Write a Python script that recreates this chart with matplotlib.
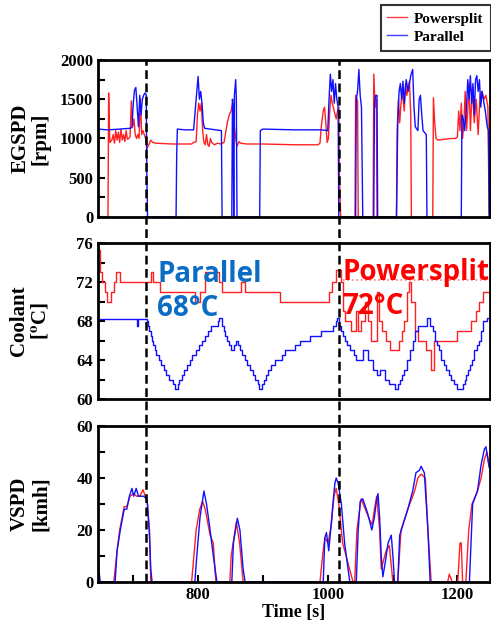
import numpy as np
import matplotlib
matplotlib.use('Agg')
from matplotlib import pyplot as plt
from matplotlib.lines import Line2D
from matplotlib.ticker import MultipleLocator
import matplotlib.transforms as mtransforms

# engine speed [rpm], (time, value)
egspd_ps = [(646, 0), (661, 0), (662, 1580), (663, 1200), (664, 950), (667, 980), (669, 1050), (671, 940),
            (673, 1100), (675, 980), (677, 1080), (679, 950), (681, 1120), (683, 980), (685, 1050), (687, 960),
            (689, 1100), (691, 990), (693, 1000), (695, 1020), (697, 1480), (699, 1150), (701, 1250), (703, 1050),
            (705, 1000), (707, 1050), (709, 1000), (711, 1500), (713, 1050), (715, 1100), (717, 1050), (719, 1000),
            (721, 870), (724, 920), (727, 980), (730, 950), (735, 940), (760, 930), (790, 930), (793, 950),
            (797, 960), (799, 1300), (801, 1450), (803, 1350), (805, 1450), (807, 1100), (809, 950), (811, 920),
            (813, 1050), (815, 920), (817, 900), (819, 1000), (821, 950), (825, 920), (830, 940), (835, 930),
            (840, 950), (845, 1200), (848, 1300), (851, 1350), (853, 1450), (855, 1300), (856, 1150), (858, 1000),
            (860, 900), (863, 960), (866, 940), (875, 930), (900, 930), (950, 920), (985, 920), (988, 940),
            (990, 1150), (993, 1350), (995, 1400), (997, 1200), (999, 950), (1001, 1000), (1003, 1350), (1005, 1550),
            (1007, 1450), (1010, 1350), (1013, 1250), (1015, 1350), (1017, 1400), (1018, 500), (1020, 0),
            (1042, 0), (1043, 1550), (1046, 1480), (1047, 0), (1070, 0), (1071, 1820), (1073, 1400), (1075, 1500),
            (1076, 0), (1106, 0), (1107, 1100), (1109, 1500), (1111, 1200), (1113, 1450), (1115, 1600),
            (1118, 1350), (1120, 1700), (1122, 1550), (1124, 1650), (1126, 1730), (1128, 1300), (1129, 0),
            (1162, 0), (1163, 1520), (1165, 1200), (1167, 1000), (1170, 980), (1180, 990), (1190, 1000),
            (1197, 1000), (1200, 1020), (1202, 1350), (1204, 1100), (1206, 1450), (1208, 1000), (1210, 1200),
            (1212, 1600), (1214, 1100), (1216, 1350), (1218, 1700), (1220, 1100), (1223, 1650), (1226, 1200),
            (1229, 1500), (1232, 1050), (1235, 1550), (1238, 1600), (1241, 1500), (1244, 1550), (1247, 1400),
            (1249, 50), (1250, 0)]

egspd_pa = [(646, 1120), (660, 1110), (680, 1120), (695, 1130), (698, 1140), (700, 1450), (702, 1620), (704, 1650),
            (706, 1400), (708, 1150), (710, 1550), (712, 1300), (714, 1500), (716, 1550), (718, 1580), (720, 1560),
            (721, 500), (722, 0), (766, 0), (767, 800), (768, 1120), (780, 1110), (793, 1110), (795, 1300),
            (798, 1600), (800, 1790), (802, 1500), (804, 1600), (806, 1450), (808, 1200), (810, 1130), (836, 1100),
            (837, 0), (852, 0), (853, 1500), (854, 1350), (855, 0), (856, 1550), (858, 1750), (859, 1500),
            (860, 0), (895, 0), (896, 1100), (900, 1120), (950, 1110), (990, 1110), (1000, 1100), (1002, 1500),
            (1004, 1820), (1006, 1600), (1008, 1750), (1010, 1450), (1012, 1700), (1014, 1500), (1016, 1400),
            (1017, 0), (1043, 0), (1044, 1500), (1046, 1600), (1048, 1880), (1050, 1550), (1052, 1400), (1054, 0),
            (1071, 0), (1072, 1450), (1074, 1550), (1076, 1550), (1077, 0), (1106, 0), (1108, 1200), (1110, 1600),
            (1112, 1700), (1114, 1500), (1116, 1730), (1118, 1450), (1121, 1750), (1124, 1600), (1126, 1700),
            (1128, 1800), (1131, 1880), (1133, 1400), (1135, 1150), (1139, 1100), (1141, 1500), (1143, 1550),
            (1145, 1300), (1147, 1100), (1152, 1050), (1153, 0), (1206, 0), (1207, 1300), (1209, 1250),
            (1211, 1100), (1214, 1400), (1216, 1750), (1218, 1500), (1220, 1800), (1222, 1450), (1224, 1700),
            (1226, 1300), (1228, 1750), (1230, 1800), (1232, 1600), (1234, 1750), (1236, 1400), (1238, 1600),
            (1240, 1500), (1243, 1350), (1246, 1150), (1248, 1100), (1249, 0), (1250, 0)]

# coolant temperature [oC], stepwise
cool_ps = [(646, 75.3), (648, 73), (652, 72), (657, 71), (660, 70), (665, 71), (671, 72), (674, 73), (679, 72),
           (728, 73), (731, 72), (742, 71), (795, 70), (803, 71), (811, 73), (832, 72), (837, 71), (866, 72),
           (873, 71), (926, 70), (1002, 71), (1007, 72), (1013, 73.2), (1021, 72), (1024, 69), (1027, 68),
           (1036, 67), (1044, 69), (1047, 67), (1052, 68), (1058, 70), (1062, 68), (1067, 66), (1076, 71),
           (1079, 68), (1084, 67), (1090, 66), (1096, 65), (1110, 66), (1114, 67), (1118, 68), (1122, 71),
           (1126, 72), (1129, 70), (1134, 67), (1139, 66), (1152, 65), (1160, 63), (1164, 66), (1200, 67),
           (1221, 68), (1229, 69), (1234, 70), (1239, 71), (1250, 71)]

cool_pa = [(646, 68.2), (705, 67.5), (708, 68.2), (721, 68), (723, 67.5), (725, 67), (727, 66.5), (729, 66),
           (731, 65.5), (733, 65), (735, 64.5), (739, 64), (743, 63.5), (747, 63), (751, 62.5), (755, 62),
           (762, 61.5), (764, 61), (769, 61.5), (771, 62), (775, 62.5), (779, 63), (783, 63.5), (787, 64),
           (791, 64.5), (796, 65), (801, 65.5), (806, 66), (811, 66.5), (816, 67), (820, 67.5), (830, 68),
           (833, 68.3), (837, 67.5), (840, 67), (842, 66.5), (844, 66), (847, 65.5), (850, 65), (856, 65.5),
           (859, 66), (862, 65.5), (864, 65), (868, 64.5), (872, 64), (876, 63.5), (880, 63), (884, 62.5),
           (888, 62), (892, 61.5), (894, 61), (898, 61.5), (901, 62), (904, 62.5), (908, 63), (913, 63.5),
           (918, 64), (930, 64.5), (934, 65), (950, 65.5), (957, 66), (972, 66.5), (990, 67), (1008, 67.5),
           (1012, 68), (1015, 68.3), (1018, 67.5), (1021, 67), (1024, 66.5), (1027, 66), (1030, 65.5),
           (1034, 65), (1041, 64.5), (1044, 64), (1054, 65), (1062, 64), (1070, 63), (1076, 62.5), (1080, 63),
           (1088, 62), (1095, 61.5), (1103, 61), (1108, 61.5), (1111, 62), (1114, 62.5), (1118, 63), (1123, 64),
           (1127, 65), (1131, 66), (1135, 67), (1139, 67.5), (1153, 68.3), (1158, 67.5), (1163, 67), (1165, 66),
           (1168, 65.5), (1171, 65), (1175, 64), (1179, 63.5), (1183, 63), (1187, 62.5), (1190, 62),
           (1194, 61.5), (1200, 61), (1208, 61.5), (1211, 62), (1213, 62.5), (1216, 63), (1219, 63.5),
           (1222, 64), (1226, 65), (1230, 65.5), (1234, 66), (1236, 67), (1240, 68), (1246, 68.3), (1250, 68.3)]

ps_line = [(1024, 72.2), (1250, 72.2)]

# vehicle speed [km/h]
vspd_pa = [(646, 7), (649, 0), (672, 0), (675, 12), (680, 20), (686, 28), (690, 28), (694, 33), (698, 36),
           (700.5, 33), (704.5, 36), (708, 33), (716, 33), (720, 32), (722, 30), (725, 18), (727, 5), (729, 0),
           (795, 0), (798, 10), (803, 25), (809, 35), (813, 30), (818.5, 20), (823.5, 10), (829, 0),
           (852, 0), (854.5, 15), (860.5, 24.5), (864.5, 20), (869.5, 5), (872.5, 0),
           (993, 0), (995.5, 17), (998, 19), (1001.5, 12), (1004.5, 20), (1008, 30), (1011, 38), (1013, 40),
           (1016, 38), (1021, 30), (1026, 15), (1034, 0), (1044, 0), (1047, 20), (1050, 31), (1054, 32),
           (1059.5, 28), (1062, 26), (1068, 20), (1072, 25), (1075, 31), (1077.5, 34), (1080, 25),
           (1082.5, 10), (1085, 2), (1089, 8), (1093, 15), (1098, 18), (1100.5, 10), (1103, 0),
           (1108, 0), (1111, 18), (1116, 22), (1123.5, 28), (1131, 35), (1136, 42), (1141.5, 43), (1144, 44.5),
           (1149, 42), (1154.5, 20), (1158, 0), (1218.5, 0), (1223.5, 30), (1231, 35), (1236.5, 45),
           (1241.5, 51), (1244, 52), (1246.5, 48), (1249, 44), (1250, 44)]

vspd_ps = [(646, 0), (670, 0), (675, 12), (679, 20), (686, 29), (690, 29), (695, 33), (700.5, 34), (705, 33),
           (710, 33), (715, 35.5), (718.5, 33), (721, 32), (725, 20), (727, 0), (790, 0), (797, 20),
           (802.5, 28), (807, 31), (811, 28), (818.5, 18), (823.5, 15), (826, 5), (827.5, 0), (849, 0),
           (851, 10), (859, 23), (864, 15), (869.5, 0), (988, 0), (992, 10), (995.5, 17), (1000.5, 15),
           (1005.5, 22), (1009.5, 33), (1013, 36), (1017, 30), (1023, 15), (1039, 0), (1041.5, 0), (1045, 20),
           (1051.5, 32), (1059.5, 27), (1064.5, 24), (1068.5, 22), (1072, 28), (1075.5, 33), (1080, 20),
           (1082.5, 5), (1090, 12), (1095, 14), (1100.5, 0), (1108, 0), (1113, 20), (1123.5, 28), (1134, 35),
           (1139, 40), (1144, 41.5), (1150.5, 40), (1154.5, 20), (1159.5, 0), (1185, 0), (1187.5, 3),
           (1192, 0), (1200.5, 0), (1204, 15), (1206, 15), (1208, 0), (1213, 0), (1217.5, 20), (1222.5, 30),
           (1231, 35), (1236.5, 40), (1241.5, 47), (1245.5, 50), (1249, 45), (1250, 45)]

t_marks = [720, 1017]
xlim = (645.6, 1250)

red = '#ff2020'
blue = '#1010ff'
plt.rcParams['font.family'] = ['Liberation Serif', 'DejaVu Serif']
plt.rcParams['font.weight'] = 'bold'
plt.rcParams['mathtext.fontset'] = 'stix'

fig = plt.figure(figsize=(4.91, 6.25), dpi=100)
ax1 = fig.add_axes([0.1996, 0.6528, 0.798, 0.2512])
ax2 = fig.add_axes([0.1996, 0.3616, 0.798, 0.2496])
ax3 = fig.add_axes([0.1996, 0.0688, 0.798, 0.2496])

def xy(pairs):
    t, v = zip(*pairs)
    return list(t), list(v)

ax1.plot(*xy(egspd_ps), color=red, lw=1)
ax1.plot(*xy(egspd_pa), color=blue, lw=1)
ax2.plot(*xy(cool_ps), color=red, lw=1, drawstyle='steps-post')
ax2.plot(*xy(cool_pa), color=blue, lw=1, drawstyle='steps-post')
ax2.plot(*xy(ps_line), color=red, lw=1.2, ls=':', alpha=0.6)
ax3.plot(*xy(vspd_ps), color=red, lw=1)
ax3.plot(*xy(vspd_pa), color=blue, lw=1)

ax1.set_ylim(0, 2000)
ax1.yaxis.set_major_locator(MultipleLocator(500))
ax1.yaxis.set_minor_locator(MultipleLocator(250))
ax2.set_ylim(60, 76)
ax2.yaxis.set_major_locator(MultipleLocator(4))
ax2.yaxis.set_minor_locator(MultipleLocator(2))
ax3.set_ylim(0, 60)
ax3.yaxis.set_major_locator(MultipleLocator(20))
ax3.yaxis.set_minor_locator(MultipleLocator(10))
ax3.xaxis.set_major_locator(MultipleLocator(200))
ax3.xaxis.set_minor_locator(MultipleLocator(100))

labels = ['EGSPD\n[rpm]', 'Coolant\n[$^{\\mathbf{o}}$C]', 'VSPD\n[kmh]']
for ax, lab in zip([ax1, ax2, ax3], labels):
    ax.set_xlim(*xlim)
    for s in ax.spines.values():
        s.set_linewidth(2)
    ax.tick_params(which='both', direction='in', length=5, width=1.5, labelsize=12, right=False, top=False)
    ax.set_ylabel(lab, fontsize=15, fontweight='bold', linespacing=1.05)
    ax.yaxis.set_label_coords(-0.12, 0.5)
for ax in [ax1, ax2]:
    ax.tick_params(axis='x', which='both', bottom=False, labelbottom=False)
ax3.set_xlabel('Time [s]', fontsize=13, fontweight='bold', labelpad=1)

# dashed markers across all three panels
trans = mtransforms.blended_transform_factory(ax3.transData, fig.transFigure)
for tm in t_marks:
    fig.add_artist(Line2D([tm, tm], [0.0688, 0.904], transform=trans, color='black',
                          lw=1.8, dashes=(3.5, 1.8)))

ax2.text(737, 74.3, 'Parallel\n68°C', color='#0a6cc4', fontsize=20, fontweight='bold',
         family=['Open Sans', 'DejaVu Sans'], va='top', ha='left', linespacing=1.25, clip_on=False)
ax2.text(1023, 74.5, 'Powersplit\n72°C', color='#ff0000', fontsize=20, fontweight='bold',
         family=['Open Sans', 'DejaVu Sans'], va='top', ha='left', linespacing=1.25, clip_on=False)

leg = fig.legend(handles=[Line2D([], [], color='#ff4040', lw=1), Line2D([], [], color='#4040ff', lw=1)],
                 labels=['Powersplit', 'Parallel'], loc='upper right', bbox_to_anchor=(0.999, 0.992),
                 fontsize=11, frameon=True, fancybox=False, handlelength=1.3, handletextpad=0.45,
                 labelspacing=0.3, borderpad=0.45, borderaxespad=0)
leg.get_frame().set_edgecolor('black')
leg.get_frame().set_linewidth(1.5)

plt.savefig('out.png', dpi=100)
